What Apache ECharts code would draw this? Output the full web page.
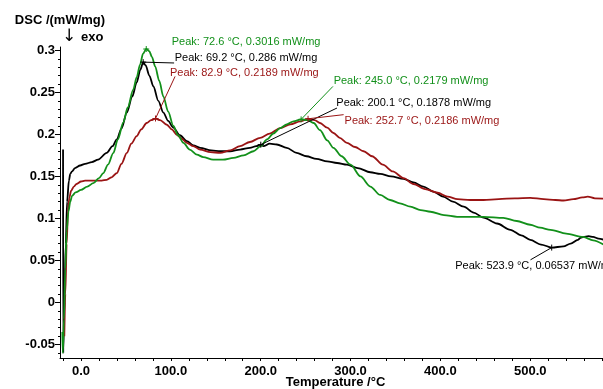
<!DOCTYPE html>
<html>
<head>
<meta charset="utf-8">
<script src="https://cdn.jsdelivr.net/npm/echarts@6/dist/echarts.min.js"></script>
<style>
  html, body { margin: 0; padding: 0; background: #fff; }
  #dscChart { width: 603px; height: 389px; }
</style>
</head>
<body>
<div id="dscChart"></div>
<script>
// curve data: [temperature °C, DSC mW/mg]
const blackCurve = [
  [-20.0, 0.182], [-19.8, -0.060], [-18.5, 0.0], [-17.0, 0.07], [-15.5, 0.12], [-13.5, 0.145],
  [-12, 0.153], [-10, 0.156], [-6.7, 0.160], [-1, 0.163], [4.5, 0.165], [12, 0.167], [19, 0.170],
  [28.6, 0.178], [35, 0.186], [39.8, 0.194], [45, 0.207], [51, 0.226], [57, 0.245], [62, 0.262],
  [66, 0.277], [69.2, 0.286], [72, 0.282], [76, 0.270], [80.6, 0.257], [86, 0.240], [91.7, 0.226],
  [97, 0.216], [102.8, 0.208], [110, 0.199], [117.8, 0.192], [125, 0.187], [132.6, 0.184],
  [145, 0.181], [155, 0.180], [166, 0.180], [177, 0.182], [188, 0.184], [195, 0.186], [200.1, 0.1878],
  [203, 0.186], [210, 0.189], [218, 0.188], [229, 0.184], [240, 0.178], [251, 0.174], [262, 0.171],
  [274, 0.168], [285, 0.166], [296, 0.164], [308, 0.160], [322, 0.155], [333, 0.153], [345, 0.150],
  [359, 0.147], [370, 0.143], [381, 0.138], [392, 0.132], [403, 0.126], [414, 0.120], [426, 0.114],
  [437, 0.107], [448, 0.101], [463, 0.094], [478, 0.0865], [490, 0.080], [500, 0.0746], [512, 0.069],
  [523.9, 0.0654], [537, 0.0667], [545, 0.070], [553, 0.0746], [556, 0.077], [559, 0.078],
  [565, 0.079], [570, 0.078], [576, 0.076], [582, 0.0746]
];
const greenCurve = [
  [-20.8, -0.035], [-20.3, -0.060], [-19, -0.02], [-17.5, 0.04], [-16, 0.085], [-14, 0.108],
  [-12, 0.12], [-10, 0.127], [-6, 0.131], [0, 0.134], [7, 0.138], [13.7, 0.142], [20, 0.148],
  [24.8, 0.154], [30, 0.164], [36, 0.178], [41, 0.194], [47, 0.214], [52, 0.232], [58, 0.253],
  [62, 0.268], [65.7, 0.283], [69, 0.296], [72.6, 0.3016], [76, 0.299], [79, 0.292], [82.5, 0.281],
  [87, 0.264], [91.7, 0.245], [97, 0.227], [102.8, 0.21], [108, 0.199], [114, 0.19], [121, 0.182],
  [129, 0.176], [136, 0.173], [147, 0.170], [158, 0.170], [169.6, 0.172], [181, 0.175], [192, 0.180],
  [200, 0.186], [207, 0.194], [214, 0.201], [221.7, 0.2076], [229, 0.212], [236.5, 0.2155],
  [245, 0.2179], [252, 0.217], [259, 0.2136], [266, 0.205], [274, 0.193], [281, 0.184], [290, 0.174],
  [300, 0.164], [311, 0.150], [322, 0.138], [333, 0.128], [344, 0.122], [355, 0.118], [366.6, 0.114],
  [378, 0.110], [389, 0.108], [404, 0.104], [418.6, 0.102], [433, 0.102], [448, 0.102], [470, 0.1008],
  [485, 0.097], [500, 0.0925], [511, 0.089], [522.6, 0.0865], [540, 0.082], [559, 0.078],
  [570, 0.074], [582, 0.0687]
];
const redCurve = [
  [-18.6, -0.04], [-17.5, 0.01], [-16, 0.07], [-14.5, 0.108], [-13, 0.125], [-11, 0.133], [-8, 0.138],
  [-5, 0.141], [0, 0.144], [4.5, 0.145], [13.7, 0.145], [23, 0.145], [28.6, 0.146], [34, 0.149],
  [39.8, 0.154], [45, 0.165], [51, 0.178], [56, 0.189], [62, 0.198], [67, 0.206], [73, 0.2136],
  [78, 0.217], [82.9, 0.2189], [88, 0.217], [95.5, 0.2115], [101, 0.206], [106.6, 0.1996],
  [112, 0.195], [117.8, 0.19], [125, 0.186], [132.6, 0.182], [144, 0.179], [155, 0.178], [166, 0.181],
  [177, 0.186], [188, 0.191], [199.4, 0.196], [210, 0.201], [221.7, 0.2076], [233, 0.212],
  [244, 0.2155], [252.7, 0.2186], [260, 0.217], [266, 0.2136], [274, 0.208], [281, 0.2017],
  [288, 0.196], [296, 0.19], [305, 0.185], [314.5, 0.18], [324, 0.174], [336, 0.164], [347, 0.156],
  [359, 0.148], [370, 0.141], [383, 0.135], [397, 0.1306], [408, 0.126], [419, 0.123], [433, 0.122],
  [448, 0.122], [465, 0.123], [483, 0.124], [500, 0.1246], [515, 0.123], [528, 0.122], [537, 0.1214],
  [548, 0.123], [558, 0.125], [564, 0.126], [572, 0.124], [582, 0.1235]
];

// peak annotations: [temperature, value, text]
const blackPeaks = [
  [69.2, 0.286, 'Peak: 69.2 °C, 0.286 mW/mg'],
  [200.1, 0.1878, 'Peak: 200.1 °C, 0.1878 mW/mg'],
  [523.9, 0.06537, 'Peak: 523.9 °C, 0.06537 mW/mg']
];
const greenPeaks = [
  [72.6, 0.3016, 'Peak: 72.6 °C, 0.3016 mW/mg'],
  [245.0, 0.2179, 'Peak: 245.0 °C, 0.2179 mW/mg']
];
const redPeaks = [
  [82.9, 0.2189, 'Peak: 82.9 °C, 0.2189 mW/mg'],
  [252.7, 0.2186, 'Peak: 252.7 °C, 0.2186 mW/mg']
];

const xLabels = [0, 100, 200, 300, 400, 500];
const yLabels = [-0.05, 0, 0.05, 0.1, 0.15, 0.2, 0.25, 0.3];

// leader line end (axis units) and text offset from the peak (px)
const blackLeaders = [[[103.6, 0.285], [26, -4]], [[284.9, 0.2314], [70, -42]], [[500.3, 0.0508], [-102, 18]]];
const greenLeaders = [[[101.4, 0.3095], [20, -7]], [[280.4, 0.2571], [27, -38]]];
const redLeaders = [[[104.7, 0.2690], [9, -46]], [[292.3, 0.2235], [31, 2]]];

const FONT = '"Liberation Sans", Arial, sans-serif';
const xTicks = [];
for (let t = -20; t <= 580; t += 20) xTicks.push(t);
const yTicks = [];
for (let i = -6; i <= 30; i++) yTicks.push(i / 100);

var chartDom = document.getElementById('dscChart');
var myChart = echarts.init(chartDom, null, { renderer: 'canvas' });

function curveSeries(name, color, data, peaks, leaders) {
  const cross = 'path://M0,5L10,5M5,0L5,10';
  return {
    name: name,
    type: 'line',
    data: data,
    showSymbol: false,
    symbol: 'none',
    smooth: 0.3,
    smoothMonotone: 'x',
    clip: false,
    lineStyle: { color: color, width: 1.8 },
    markLine: {
      silent: true,
      symbol: ['none', 'none'],
      label: { show: false },
      lineStyle: { color: color, width: 1, type: 'solid' },
      data: peaks.map((p, i) => [{ coord: [p[0], p[1]] }, { coord: leaders[i][0] }])
    },
    markPoint: {
      silent: true,
      data: peaks.map((p, i) => ({
        coord: [p[0], p[1]],
        symbol: cross,
        symbolSize: 6,
        itemStyle: { color: 'none', borderColor: color, borderWidth: 1 },
        label: {
          show: true,
          position: 'right',
          distance: 0,
          offset: leaders[i][1],
          formatter: p[2],
          color: color,
          fontFamily: FONT,
          fontSize: 11
        }
      }))
    }
  };
}

var option = {
  animation: false,
  backgroundColor: '#ffffff',
  grid: { left: 60, right: 0, top: 47, bottom: 31, containLabel: false, outerBoundsMode: 'none' },
  xAxis: [
    {
      type: 'value',
      min: -23.4,
      max: 581,
      position: 'bottom',
      name: 'Temperature /°C',
      nameLocation: 'middle',
      nameGap: 18,
      nameMoveOverlap: false,
      nameTextStyle: { fontFamily: FONT, fontSize: 13, fontWeight: 'bold', color: '#000', padding: [0, 0, 0, 8] },
      axisLine: { show: true, onZero: false, lineStyle: { color: '#000', width: 1 } },
      axisTick: { show: true, length: 3, customValues: xTicks, lineStyle: { color: '#000' } },
      axisLabel: {
        customValues: xLabels,
        margin: 7,
        fontFamily: FONT,
        fontSize: 13,
        fontWeight: 'bold',
        color: '#000',
        formatter: v => v.toFixed(1)
      },
      splitLine: { show: false }
    }
  ],
  yAxis: [
    {
      type: 'value',
      min: -0.066,
      max: 0.304,
      position: 'left',
      name: 'DSC /(mW/mg)',
      nameLocation: 'end',
      nameGap: 20,
      nameTextStyle: { fontFamily: FONT, fontSize: 13, fontWeight: 'bold', color: '#000' },
      axisLine: { show: true, onZero: false, lineStyle: { color: '#000', width: 1 } },
      axisTick: { show: true, length: 5, customValues: yLabels, lineStyle: { color: '#000' } },
      axisLabel: {
        customValues: yLabels,
        margin: 5,
        fontFamily: FONT,
        fontSize: 13,
        fontWeight: 'bold',
        color: '#000',
        formatter: v => String(Math.round(v * 100) / 100)
      },
      splitLine: { show: false }
    },
    {
      type: 'value',
      min: -0.066,
      max: 0.304,
      position: 'left',
      axisLine: { show: false, onZero: false },
      axisTick: { show: true, length: 2, customValues: yTicks, lineStyle: { color: '#000' } },
      axisLabel: { show: false },
      splitLine: { show: false }
    }
  ],
  graphic: [
    {
      type: 'text',
      left: 62,
      top: 28,
      style: { text: '↓', font: '17px "DejaVu Sans", sans-serif', fill: '#000' }
    },
    {
      type: 'text',
      left: 81,
      top: 31,
      style: { text: 'exo', font: 'bold 13px ' + FONT, fill: '#000' }
    }
  ],
  series: [
    curveSeries('black', '#000000', blackCurve, blackPeaks, blackLeaders),
    curveSeries('red', '#9a1414', redCurve, redPeaks, redLeaders),
    curveSeries('green', '#12901a', greenCurve, greenPeaks, greenLeaders)
  ]
};

myChart.setOption(option);

window.addEventListener('resize', () => {
  myChart.resize();
});
</script>
</body>
</html>
